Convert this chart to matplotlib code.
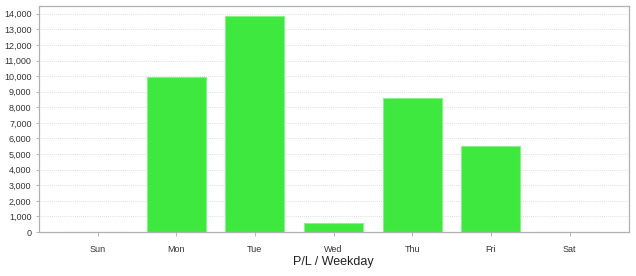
import matplotlib
matplotlib.use("Agg")
import matplotlib.pyplot as plt
from matplotlib.ticker import FuncFormatter, MultipleLocator

plt.rcParams['font.family'] = ['Liberation Sans', 'DejaVu Sans']

days = ["Sun", "Mon", "Tue", "Wed", "Thu", "Fri", "Sat"]
pl_values = [0, 9950, 13830, 570, 8610, 5500, 0]

fig = plt.figure(figsize=(6.36, 2.76), dpi=100)
ax = fig.add_axes([38.5 / 636, 1 - 232 / 276, 590 / 636, 226 / 276])

ax.bar(range(len(days)), pl_values, width=0.75, color="#3ee83e",
       edgecolor="#8af08a", linewidth=0.8, zorder=3)

ax.set_xlim(-0.75, 6.75)
ax.set_ylim(0, 14500)
ax.set_xticks(range(len(days)))
ax.set_xticklabels(days, fontsize=6.5, color="#333333")
ax.yaxis.set_major_locator(MultipleLocator(1000))
ax.yaxis.set_major_formatter(FuncFormatter(lambda v, p: f"{int(v):,}"))
ax.tick_params(axis='y', labelsize=6.5, colors="#333333", length=2, width=0.6, pad=3)
ax.tick_params(axis='x', length=3, width=0.6, color="#aaaaaa", pad=6)
ax.tick_params(axis='y', color="#aaaaaa")

ax.grid(axis='y', linestyle=(0, (1, 1.5)), color="#d4d4d4", linewidth=0.6, zorder=0)
for s in ax.spines.values():
    s.set_color("#b0b0b0")
    s.set_linewidth(0.9)

fig.text(333 / 636, 1 - 262.5 / 276, "P/L / Weekday", ha="center", va="center",
         fontsize=9, color="#222222")

fig.savefig("out.png", dpi=100)
